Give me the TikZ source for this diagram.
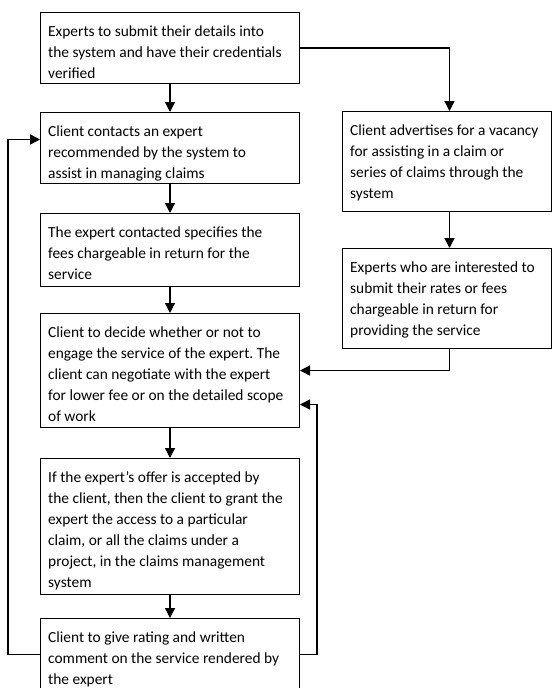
\documentclass[tikz,border=0pt]{standalone}
\usepackage{fontspec}
\setmainfont{Carlito}
\frenchspacing
\usetikzlibrary{arrows.meta}
\begin{document}
\begin{tikzpicture}[x=1pt,y=-1pt,
  box/.style={draw, line width=1pt, anchor=north west, inner sep=0pt, minimum width=#1},
  box/.default=259pt,
  txt/.style={anchor=base west, align=left, inner sep=0pt,
    font=\fontsize{15.4}{21}\selectfont},
  flow/.style={line width=1.4pt, -{Triangle[length=10pt,width=10pt]}}]
\useasboundingbox (0,0) rectangle (552,688);
% boxes
\node[box, minimum height=71pt] (b1) at (40,12) {};
\node[box, minimum height=71pt] (b2) at (40,112) {};
\node[box, minimum height=73pt] (b3) at (40,213) {};
\node[box, minimum height=114pt] (b4) at (40,313) {};
\node[box, minimum height=136pt] (b5) at (40,458) {};
\node[box, minimum height=72pt] (b6) at (40,618) {};
\node[box=209pt, minimum height=100pt] (r1) at (342,111) {};
\node[box=209pt, minimum height=100pt] (r2) at (342,248) {};
% texts (anchored at the baseline of their last line)
\node[txt] (t1) at (48,78) {Experts to submit their details into\\the system and have their credentials\\verified};
\node[txt] (t2) at (48,178) {Client contacts an expert\\recommended by the system to\\assist in managing claims};
\node[txt] (t3) at (48,279) {The expert contacted specifies the\\fees chargeable in return for the\\service};
\node[txt] (t4) at (48,421) {Client to decide whether or not to\\engage the service of the expert. The\\client can negotiate with the expert\\for lower fee or on the detailed scope\\of work};
\node[txt] (t5) at (48,587) {If the expert’s offer is accepted by\\the client, then the client to grant the\\expert the access to a particular\\claim, or all the claims under a\\project, in the claims management\\system};
\node[txt] (t6) at (48,684) {Client to give rating and written\\comment on the service rendered by\\the expert};
\node[txt] (t7) at (350,198) {Client advertises for a vacancy\\for assisting in a claim or\\series of claims through the\\system};
\node[txt] (t8) at (350,335) {Experts who are interested to\\submit their rates or fees\\chargeable in return for\\providing the service};
% connectors
\draw[flow] (b1) -- (b2);
\draw[flow] (b2) -- (b3);
\draw[flow] (b3) -- (b4);
\draw[flow] (b4) -- (b5);
\draw[flow] (b5) -- (b6);
\draw[flow] (b1.east) -| ([xshift=2.5pt]r1.north);
\draw[flow] ([xshift=2.5pt]r1.south) -- ([xshift=2.5pt]r2.north);
\draw[flow] ([xshift=2.5pt]r2.south) |- (b4.east);
\draw[flow] (b6.east) -| ([xshift=17pt,yshift=-34pt]b4.east) -- ([yshift=-34pt]b4.east);
\draw[flow] (b6.west) -| ([xshift=-32pt,yshift=8.5pt]b2.west) -- ([yshift=8.5pt]b2.west);
\end{tikzpicture}
\end{document}
